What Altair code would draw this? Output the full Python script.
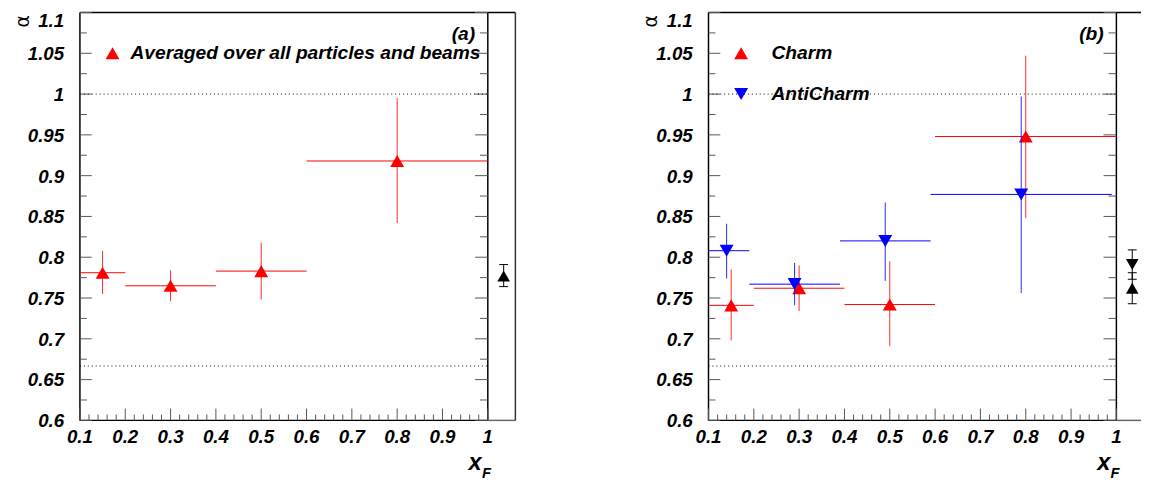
import altair as alt
import pandas as pd

# ---------------- data ----------------
# panel (a): averaged over all particles and beams
A_X = [0.15, 0.3, 0.5, 0.8]
A_XLO = [0.1, 0.2, 0.4, 0.6]
A_XHI = [0.2, 0.4, 0.6, 1.0]
A_Y = [0.781, 0.765, 0.783, 0.918]
A_YLO = [0.755, 0.746, 0.748, 0.842]
A_YHI = [0.808, 0.784, 0.818, 0.995]

# panel (b): charm
CH_X = [0.15, 0.3, 0.5, 0.8]
CH_XLO = [0.1, 0.2, 0.4, 0.6]
CH_XHI = [0.2, 0.4, 0.6, 1.0]
CH_Y = [0.741, 0.762, 0.742, 0.948]
CH_YLO = [0.698, 0.734, 0.691, 0.848]
CH_YHI = [0.785, 0.790, 0.795, 1.047]

# panel (b): anticharm
AC_X = [0.14, 0.29, 0.49, 0.79]
AC_XLO = [0.1, 0.19, 0.39, 0.59]
AC_XHI = [0.19, 0.39, 0.59, 0.99]
AC_Y = [0.808, 0.767, 0.820, 0.877]
AC_YLO = [0.774, 0.741, 0.771, 0.756]
AC_YHI = [0.841, 0.793, 0.867, 0.997]

# integrated values (drawn in the narrow box right of each panel)
SIDE_X = 1.035
SIDE_A_Y = [0.777]
SIDE_A_LO = [0.764]
SIDE_A_HI = [0.791]
SIDE_B_Y = [0.791, 0.762]          # anticharm (down), charm (up)
SIDE_B_LO = [0.773, 0.743]
SIDE_B_HI = [0.809, 0.781]

REF_LINES = [1.0, 2.0 / 3.0]

X_MAJOR = [0.1, 0.2, 0.3, 0.4, 0.5, 0.6, 0.7, 0.8, 0.9, 1.0]
X_LABELS = ["0.1", "0.2", "0.3", "0.4", "0.5", "0.6", "0.7", "0.8", "0.9", "1"]
Y_MAJOR = [0.6, 0.65, 0.7, 0.75, 0.8, 0.85, 0.9, 0.95, 1.0, 1.05, 1.1]
Y_LABELS = ["0.6", "0.65", "0.7", "0.75", "0.8", "0.85", "0.9", "0.95", "1", "1.05", "1.1"]

LEG_A = ["Averaged over all particles and beams"]
LEG_B = ["Charm", "AntiCharm"]
Y_TITLE = "α"

# ---------------- style ----------------
FONT = "Liberation Sans"
RED = "#ff0000"
BLUE = "#0000ff"
TICKC = "#555555"
W = 414
H = 414
XPX = W / 0.9
YPX = H / 0.5
TXT = 19.5
LBL = 19


def tmark(size=TXT, align="left", baseline="middle", **kw):
    d = dict(font=FONT, fontSize=size, fontWeight="bold", fontStyle="italic",
             color="black", align=align, baseline=baseline)
    d.update(kw)
    return d


def make_panel(series, legend, tag, side_w, side_y, side_lo, side_hi, side_shapes, right_line):
    xmax = 1.0 + side_w / XPX
    xs = alt.Scale(domain=[0.1, xmax], nice=False, zero=False)
    ysc = alt.Scale(domain=[0.6, 1.1], nice=False, zero=False)

    def X(f):
        return alt.X(f, scale=xs, axis=None)

    def Y(f):
        return alt.Y(f, scale=ysc, axis=None)

    layers = []
    # frame: top, right (main), bottom, left
    frame = pd.DataFrame(dict(
        x=[0.1, 1.0, 0.1, 0.1],
        x2=[xmax, 1.0, 1.0, 0.1],
        y=[1.1, 0.6, 0.6, 0.6],
        y2=[1.1, 1.1, 0.6, 1.1]))
    layers.append(alt.Chart(frame).mark_rule(color="black", strokeWidth=1.5).encode(
        x=X("x:Q"), x2="x2:Q", y=Y("y:Q"), y2="y2:Q"))
    # side box: gray bottom, optional right edge
    sb = pd.DataFrame(dict(x=[1.0], x2=[xmax], y=[0.6]))
    layers.append(alt.Chart(sb).mark_rule(color="#666666", strokeWidth=1.5).encode(
        x=X("x:Q"), x2="x2:Q", y=Y("y:Q")))
    if right_line:
        sr = pd.DataFrame(dict(x=[xmax], y=[0.6], y2=[1.1]))
        layers.append(alt.Chart(sr).mark_rule(color="#333333", strokeWidth=1.5).encode(
            x=X("x:Q"), y=Y("y:Q"), y2="y2:Q"))

    # inward ticks
    rows = []
    y_minor = [round(v + 0.025, 3) for v in Y_MAJOR[:-1]]
    x_minor = [round(0.1 + 0.02 * i, 2) for i in range(46) if i % 5 != 0]
    for v in Y_MAJOR:
        rows.append(dict(x=0.1, x2=0.1 + 12 / XPX, y=v, y2=v))
        rows.append(dict(x=1.0, x2=1.0 - 13 / XPX, y=v, y2=v))
    for v in y_minor:
        rows.append(dict(x=0.1, x2=0.1 + 7 / XPX, y=v, y2=v))
        rows.append(dict(x=1.0, x2=1.0 - 8 / XPX, y=v, y2=v))
    for v in X_MAJOR:
        rows.append(dict(x=v, x2=v, y=0.6, y2=0.6 + 12 / YPX))
    for v in x_minor:
        rows.append(dict(x=v, x2=v, y=0.6, y2=0.6 + 6 / YPX))
    layers.append(alt.Chart(pd.DataFrame(rows)).mark_rule(color=TICKC, strokeWidth=1).encode(
        x=X("x:Q"), x2="x2:Q", y=Y("y:Q"), y2="y2:Q"))

    # tick labels
    xl = pd.DataFrame(dict(v=X_MAJOR, t=X_LABELS))
    layers.append(alt.Chart(xl).mark_text(**tmark(size=LBL, align="center",
                                                  baseline="top")).encode(
        x=X("v:Q"), y=alt.value(H + 8), text="t:N"))
    yl = pd.DataFrame(dict(v=Y_MAJOR[:-1], t=Y_LABELS[:-1]))
    layers.append(alt.Chart(yl).mark_text(**tmark(size=LBL, align="right", dy=1)).encode(
        x=alt.value(-16), y=Y("v:Q"), text="t:N"))
    yt = pd.DataFrame(dict(v=Y_MAJOR[-1:], t=Y_LABELS[-1:]))
    layers.append(alt.Chart(yt).mark_text(**tmark(size=LBL, align="right",
                                                  baseline="top")).encode(
        x=alt.value(-16), y=Y("v:Q"), text="t:N"))
    # y title
    ytl = pd.DataFrame(dict(t=[Y_TITLE]))
    layers.append(alt.Chart(ytl).mark_text(font="DejaVu Sans", fontSize=19, angle=270,
                                           align="center", baseline="middle",
                                           color="black").encode(
        x=alt.value(-58), y=alt.value(9), text="t:N"))

    # reference lines
    ref = pd.DataFrame(dict(y=REF_LINES, x=[0.1] * len(REF_LINES), x2=[1.0] * len(REF_LINES)))
    layers.append(alt.Chart(ref).mark_rule(color="black", strokeWidth=1,
                                           strokeDash=[1, 3]).encode(
        x=X("x:Q"), x2="x2:Q", y=Y("y:Q")))

    # data series
    for (xv, xlo, xhi, yv, ylo, yhi, color, shape) in series:
        df = pd.DataFrame(dict(x=xv, xlo=xlo, xhi=xhi, y=yv, ylo=ylo, yhi=yhi))
        layers.append(alt.Chart(df).mark_rule(color=color, strokeWidth=1).encode(
            x=X("xlo:Q"), x2="xhi:Q", y=Y("y:Q")))
        layers.append(alt.Chart(df).mark_rule(color=color, strokeWidth=1, opacity=0.85).encode(
            x=X("x:Q"), y=Y("ylo:Q"), y2="yhi:Q"))
        layers.append(alt.Chart(df).mark_point(shape=shape, filled=True, size=200, opacity=1,
                                               color=color, strokeWidth=0).encode(
            x=X("x:Q"), y=Y("y:Q")))

    # integrated values in the side box
    cap = 4.5 / XPX
    sd = pd.DataFrame(dict(x=[SIDE_X] * len(side_y), y=side_y, lo=side_lo, hi=side_hi,
                           c1=[SIDE_X - cap] * len(side_y), c2=[SIDE_X + cap] * len(side_y)))
    layers.append(alt.Chart(sd).mark_rule(color="black", strokeWidth=1).encode(
        x=X("x:Q"), y=Y("lo:Q"), y2="hi:Q"))
    layers.append(alt.Chart(sd).mark_rule(color="black", strokeWidth=1).encode(
        x=X("c1:Q"), x2="c2:Q", y=Y("lo:Q")))
    layers.append(alt.Chart(sd).mark_rule(color="black", strokeWidth=1).encode(
        x=X("c1:Q"), x2="c2:Q", y=Y("hi:Q")))
    for i, shp in enumerate(side_shapes):
        layers.append(alt.Chart(sd.iloc[[i]]).mark_point(
            shape=shp, filled=True, size=165, opacity=1, color="black", strokeWidth=0).encode(
            x=X("x:Q"), y=Y("y:Q")))

    # legend
    for (lx, tx, ly, label, color, shape) in legend:
        d = pd.DataFrame(dict(x=[lx], tx=[tx], y=[ly], t=[label]))
        layers.append(alt.Chart(d).mark_point(shape=shape, filled=True, size=200, opacity=1,
                                              color=color, strokeWidth=0).encode(
            x=X("x:Q"), y=Y("y:Q")))
        layers.append(alt.Chart(d).mark_text(**tmark()).encode(
            x=X("tx:Q"), y=Y("y:Q"), text="t:N"))
    # panel tag
    d = pd.DataFrame(dict(x=[0.972], y=[1.073], t=[tag]))
    layers.append(alt.Chart(d).mark_text(**tmark(align="right")).encode(
        x=X("x:Q"), y=Y("y:Q"), text="t:N"))
    # x-axis title x_F
    d = pd.DataFrame(dict(x=[0.972], t=["x"]))
    layers.append(alt.Chart(d).mark_text(**tmark(size=24, align="center",
                                                 baseline="alphabetic")).encode(
        x=X("x:Q"), y=alt.value(H + 50), text="t:N"))
    d = pd.DataFrame(dict(x=[0.997], t=["F"]))
    layers.append(alt.Chart(d).mark_text(**tmark(size=15, align="center",
                                                 baseline="alphabetic")).encode(
        x=X("x:Q"), y=alt.value(H + 58), text="t:N"))

    return alt.layer(*layers).properties(width=W + side_w, height=H)


panel_a = make_panel(
    [(A_X, A_XLO, A_XHI, A_Y, A_YLO, A_YHI, RED, "triangle-up")],
    [(0.172, 0.2115, 1.05, LEG_A[0], RED, "triangle-up")],
    "(a)", 28, SIDE_A_Y, SIDE_A_LO, SIDE_A_HI, ["triangle-up"], True)
panel_b = make_panel(
    [(CH_X, CH_XLO, CH_XHI, CH_Y, CH_YLO, CH_YHI, RED, "triangle-up"),
     (AC_X, AC_XLO, AC_XHI, AC_Y, AC_YLO, AC_YHI, BLUE, "triangle-down")],
    [(0.172, 0.239, 1.05, LEG_B[0], RED, "triangle-up"),
     (0.172, 0.239, 1.0, LEG_B[1], BLUE, "triangle-down")],
    "(b)", 25, SIDE_B_Y, SIDE_B_LO, SIDE_B_HI, ["triangle-down", "triangle-up"], False)

chart = alt.hconcat(panel_a, panel_b, spacing=128).properties(
    padding={"left": 6, "top": 0, "right": 0, "bottom": 0}, background="white"
).configure_view(stroke=None)

chart.save("out.html", embed_options={"renderer": "svg", "actions": False})
